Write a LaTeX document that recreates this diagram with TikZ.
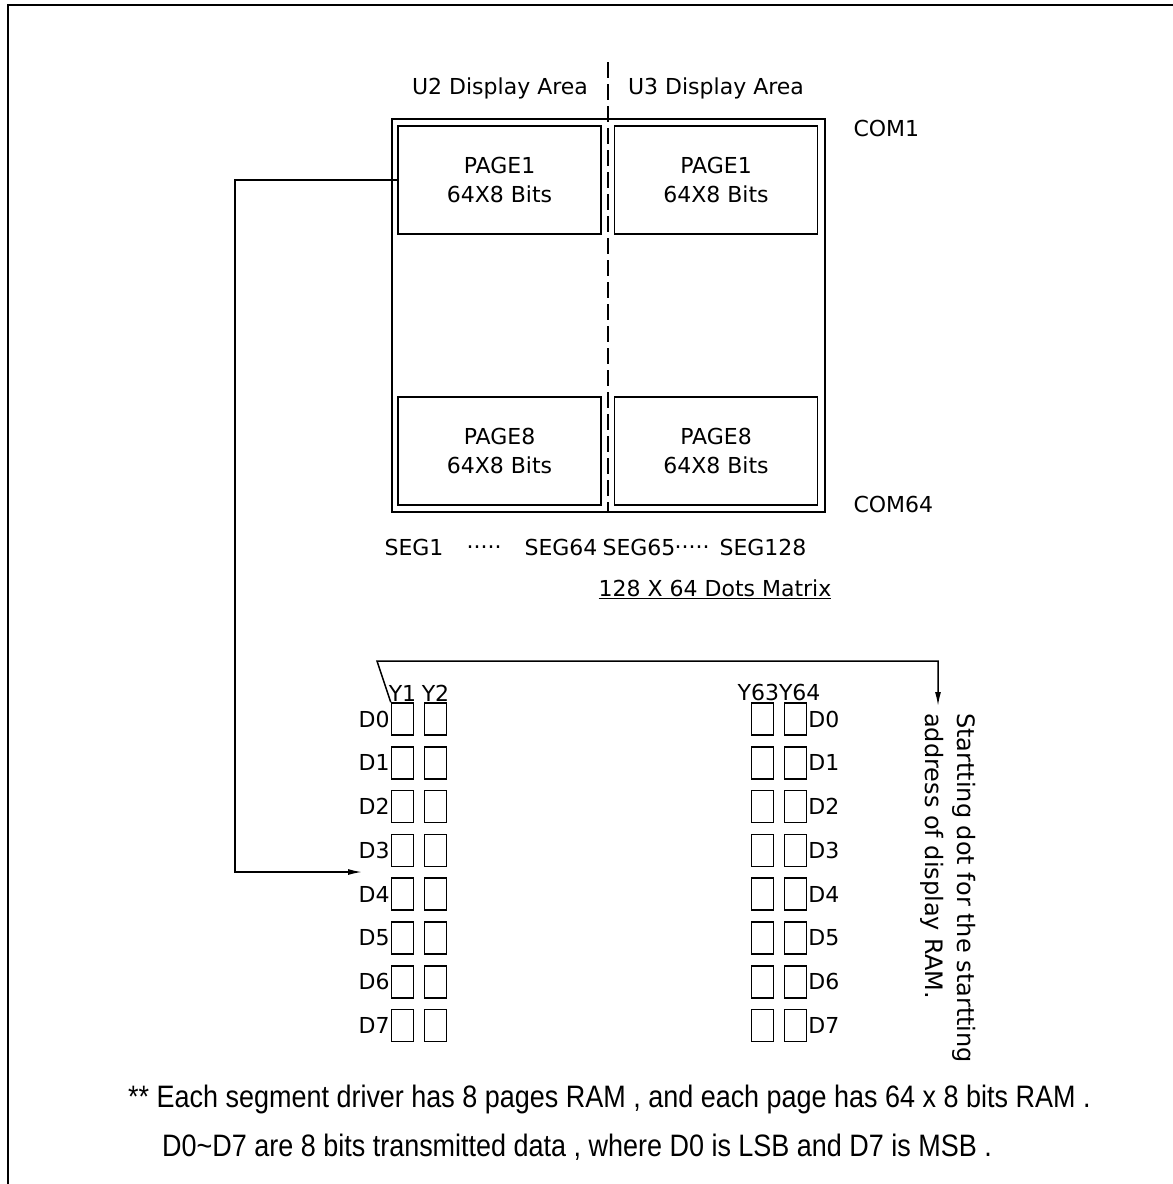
\documentclass[tikz,border=0pt]{standalone}
\usepackage{fontspec}
\setmainfont{DejaVu Sans}
\newfontfamily\notefont[FakeStretch=0.87]{Liberation Sans}
\usetikzlibrary{positioning, arrows.meta, calc}

\begin{document}
\begin{tikzpicture}[x=1pt, y=-1pt, every node/.style={font=\fontsize{22}{29}\selectfont}]
  % Styles
  \tikzset{
    pagebox/.style={rectangle, draw=black, line width=1.7pt, minimum width=203pt, minimum height=108pt, align=center, inner sep=0pt},
    cell/.style={rectangle, draw=black, line width=1.5pt, minimum width=22pt, minimum height=32pt, inner sep=0pt},
    lbl/.style={inner sep=1pt},
    flow/.style={-{Latex[length=14pt, width=6pt]}, line width=1.5pt}
  }
  \useasboundingbox (0,0) rectangle (1173,1184);

  % Sheet border (only left and top are visible)
  \draw[line width=2.5pt] (8,1184) -- (8,5) -- (1173,5);

  % Display area
  \node[rectangle, draw=black, line width=1.7pt, minimum width=433pt, minimum height=393pt, inner sep=0pt] (dots) at (608.5,315.5) {};
  \node[pagebox] (u2p1) at (499.5,180) {PAGE1\\64X8 Bits};
  \node[pagebox] (u3p1) at (716,180) {PAGE1\\64X8 Bits};
  \node[pagebox] (u2p8) at (499.5,451) {PAGE8\\64X8 Bits};
  \node[pagebox] (u3p8) at (716,451) {PAGE8\\64X8 Bits};
  \coordinate (divtop) at (608,62);
  \draw[line width=1.7pt, dash pattern=on 16pt off 6pt] (divtop) -- (divtop |- dots.south);

  % Area labels
  \node (u2) at (500,88) {U2 Display Area};
  \node (u3) at (716,88) {U3 Display Area};
  \node[anchor=west] (com1) at (850,128) {COM1};
  \node[anchor=west] (com64) at (850,504) {COM64};

  % Segments
  \node (seg1) at (414,547) {SEG1};
  \node (dotsa) at (484,547) {.....};
  \node (seg64) at (561,547) {SEG64};
  \node (seg65) at (639,547) {SEG65};
  \node (dotsb) at (692,547) {.....};
  \node (seg128) at (763,547) {SEG128};
  \node (title) at (715,589) {\underline{128 X 64 Dots Matrix}};

  % RAM cells
  \foreach \i in {0,...,7} {
    \node[cell] (y1d\i) at (402.5,{719+43.8*\i}) {};
    \node[cell] (y2d\i) at (435.5,{719+43.8*\i}) {};
    \node[cell] (y63d\i) at (762.5,{719+43.8*\i}) {};
    \node[cell] (y64d\i) at (795.5,{719+43.8*\i}) {};
    \node[lbl, anchor=east] (dl\i) at (y1d\i.west) {D\i};
    \node[lbl, anchor=west] (dr\i) at (y64d\i.east) {D\i};
  }
  \node[lbl, anchor=south] (y1) at (y1d0.north) {Y1};
  \node[lbl, anchor=south] (y2) at (y2d0.north) {Y2};
  \node[lbl, anchor=south] (y6364) at ($(y63d0.north)!0.5!(y64d0.north)$) {Y63Y64};

  % Starting dot
  \coordinate (start) at (377,661);
  \coordinate (startend) at (938,706);
  \draw[flow] (y1d0.north west) -- (start) -| (startend);
  \node[rotate=-90, anchor=north west, align=left, inner sep=0pt, font=\fontsize{24}{32}\selectfont] (note) at (976,713)
    {Startting dot for the startting\\address of display RAM.};

  % Page1 to D4
  \coordinate (tip) at (362,872);
  \draw[flow] (u2p1.west) -| (235,872) -- (tip);

  % Footnote
  \node[anchor=west, inner sep=0pt, font=\notefont\fontsize{31}{47}\selectfont] (foot1) at (128,1099)
    {** Each segment driver has 8 pages RAM , and each page has 64 x 8 bits RAM .};
  \node[anchor=west, inner sep=0pt, font=\notefont\fontsize{31}{47}\selectfont] (foot2) at (162,1147)
    {D0\textasciitilde D7 are 8 bits transmitted data , where D0 is LSB and D7 is MSB .};
\end{tikzpicture}
\end{document}
